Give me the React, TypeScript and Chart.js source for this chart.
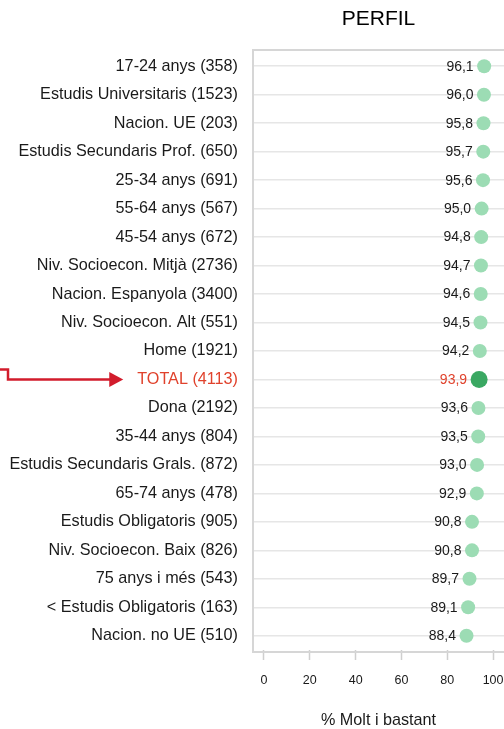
import React, { useEffect, useRef } from "react";
import { Chart, registerables } from "chart.js";

Chart.register(...registerables);

const categories = [
  "17-24 anys (358)",
  "Estudis Universitaris (1523)",
  "Nacion. UE (203)",
  "Estudis Secundaris Prof. (650)",
  "25-34 anys (691)",
  "55-64 anys (567)",
  "45-54 anys (672)",
  "Niv. Socioecon. Mitjà (2736)",
  "Nacion. Espanyola (3400)",
  "Niv. Socioecon. Alt (551)",
  "Home (1921)",
  "TOTAL (4113)",
  "Dona (2192)",
  "35-44 anys (804)",
  "Estudis Secundaris Grals. (872)",
  "65-74 anys (478)",
  "Estudis Obligatoris (905)",
  "Niv. Socioecon. Baix (826)",
  "75 anys i més (543)",
  "< Estudis Obligatoris (163)",
  "Nacion. no UE (510)",
];

const values = [
  96.1, 96.0, 95.8, 95.7, 95.6, 95.0, 94.8, 94.7, 94.6, 94.5, 94.2, 93.9, 93.6,
  93.5, 93.0, 92.9, 90.8, 90.8, 89.7, 89.1, 88.4,
];

const xTicks = [0, 20, 40, 60, 80, 100];
const totalLabel = "TOTAL (4113)";
const titleText = "PERFIL";
const axisTitle = "% Molt i bastant";

const FONT = "'Liberation Sans', Arial, sans-serif";
const RED_TEXT = "#e0422c";
const RED_ARROW = "#d21c2c";
const LIGHT_GREEN = "#9cdcb4";
const DARK_GREEN = "#3aa862";
const LABEL_SIZE = 16.2;

const fmt = (v: number) => v.toFixed(1).replace(".", ",");

export default function App() {
  const ref = useRef<HTMLCanvasElement>(null);

  useEffect(() => {
    const canvas = ref.current;
    if (!canvas) return;
    const totalIdx = categories.indexOf(totalLabel);
    Chart.defaults.font.family = FONT;

    const radii = categories.map((_, i) => (i === totalIdx ? 8.5 : 7));
    const colors = categories.map((_, i) =>
      i === totalIdx ? DARK_GREEN : LIGHT_GREEN
    );

    const decor = {
      id: "decor",
      beforeDatasetsDraw(chart: any) {
        const { ctx, chartArea } = chart;
        ctx.save();
        ctx.strokeStyle = "#d6d6d6";
        ctx.lineWidth = 2;
        ctx.beginPath();
        ctx.moveTo(chartArea.right + 5, chartArea.top - 2);
        ctx.lineTo(chartArea.left, chartArea.top - 2);
        ctx.lineTo(chartArea.left, chartArea.bottom + 2);
        ctx.lineTo(chartArea.right + 5, chartArea.bottom + 2);
        ctx.stroke();
        ctx.restore();
      },
      afterDatasetsDraw(chart: any) {
        const { ctx } = chart;
        const meta = chart.getDatasetMeta(0);
        ctx.save();
        ctx.font = `14px ${FONT}`;
        ctx.textAlign = "right";
        ctx.textBaseline = "middle";
        meta.data.forEach((pt: any, i: number) => {
          ctx.fillStyle = i === totalIdx ? RED_TEXT : "#1a1a1a";
          ctx.fillText(fmt(values[i]), pt.x - radii[i] - 3.5, pt.y + 0.5);
        });
        // arrow pointing at the TOTAL label
        const yScale = chart.scales.y;
        const y = yScale.getPixelForValue(totalIdx);
        ctx.font = `${LABEL_SIZE}px ${FONT}`;
        const w = ctx.measureText(totalLabel).width;
        const labelLeft = chart.chartArea.left - 15 - w;
        const tip = labelLeft - 14;
        ctx.strokeStyle = RED_ARROW;
        ctx.fillStyle = RED_ARROW;
        ctx.lineWidth = 2.5;
        ctx.beginPath();
        ctx.moveTo(0, y - 10);
        ctx.lineTo(8, y - 10);
        ctx.lineTo(8, y);
        ctx.lineTo(tip - 12, y);
        ctx.stroke();
        ctx.beginPath();
        ctx.moveTo(tip, y);
        ctx.lineTo(tip - 14, y - 7.5);
        ctx.lineTo(tip - 14, y + 7.5);
        ctx.closePath();
        ctx.fill();
        ctx.restore();
      },
    };

    const chart = new Chart(canvas, {
      type: "line",
      data: {
        labels: categories,
        datasets: [
          {
            data: values,
            showLine: false,
            pointRadius: radii,
            pointHoverRadius: radii,
            pointBackgroundColor: colors,
            pointBorderWidth: 0,
            pointBorderColor: colors,
            clip: false,
          },
        ],
      },
      options: {
        indexAxis: "y",
        animation: false,
        responsive: false,
        events: [],
        layout: { padding: 0, autoPadding: false },
        plugins: {
          legend: { display: false },
          tooltip: { enabled: false },
          title: {
            display: true,
            text: titleText,
            fullSize: false,
            color: "#000",
            font: { size: 21, weight: "normal", family: FONT },
            padding: { top: 6.5, bottom: 20.3 },
          },
        },
        scales: {
          y: {
            type: "category",
            offset: true,
            grid: {
              offset: false,
              color: "#e6e6e6",
              lineWidth: 1.5,
              drawTicks: false,
            },
            border: { display: false },
            ticks: {
              padding: 15,
              font: { size: LABEL_SIZE, family: FONT },
              color: (c: any) => (c.index === totalIdx ? RED_TEXT : "#1a1a1a"),
            },
            afterFit: (s: any) => {
              s.width = 253;
              s.paddingTop = 0;
              s.paddingBottom = 0;
            },
          },
          x: {
            type: "linear",
            min: -4.8,
            max: 104.76,
            afterBuildTicks: (s: any) => {
              s.ticks = xTicks.map((v) => ({ value: v }));
            },
            afterFit: (s: any) => {
              s.height = 79;
              s.paddingLeft = 0;
              s.paddingRight = 0;
            },
            grid: {
              drawOnChartArea: false,
              drawTicks: true,
              tickLength: 10,
              tickColor: "#cfcfcf",
              tickWidth: 1.5,
            },
            border: { display: false },
            ticks: {
              padding: 13,
              font: { size: 12.5, family: FONT },
              color: "#1a1a1a",
              maxRotation: 0,
              autoSkip: false,
            },
            title: {
              display: true,
              text: axisTitle,
              color: "#1a1a1a",
              font: { size: LABEL_SIZE, family: FONT, lineHeight: 1.1 },
              padding: { top: 10, bottom: 0 },
            },
          },
        },
      },
      plugins: [decor],
    });
    return () => chart.destroy();
  }, []);

  return (
    <div
      style={{
        position: "fixed",
        left: 0,
        top: 0,
        width: 504,
        height: 729,
        overflow: "hidden",
        background: "#fff",
      }}
    >
      <canvas
        ref={ref}
        width={504}
        height={729}
        style={{ width: 504, height: 729, display: "block" }}
      />
    </div>
  );
}
